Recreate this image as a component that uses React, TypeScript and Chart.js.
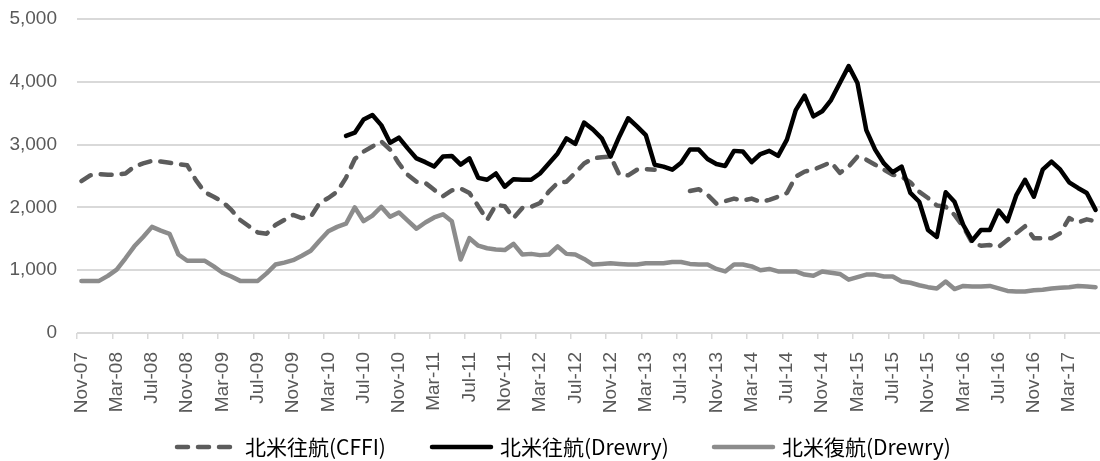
import React, { useEffect, useRef } from "react";
import { Chart, registerables } from "chart.js";

Chart.register(...registerables);

const months: string[] = [
  "Nov-07", "Dec-07",
  "Jan-08", "Feb-08", "Mar-08", "Apr-08", "May-08", "Jun-08", "Jul-08", "Aug-08", "Sep-08", "Oct-08", "Nov-08", "Dec-08",
  "Jan-09", "Feb-09", "Mar-09", "Apr-09", "May-09", "Jun-09", "Jul-09", "Aug-09", "Sep-09", "Oct-09", "Nov-09", "Dec-09",
  "Jan-10", "Feb-10", "Mar-10", "Apr-10", "May-10", "Jun-10", "Jul-10", "Aug-10", "Sep-10", "Oct-10", "Nov-10", "Dec-10",
  "Jan-11", "Feb-11", "Mar-11", "Apr-11", "May-11", "Jun-11", "Jul-11", "Aug-11", "Sep-11", "Oct-11", "Nov-11", "Dec-11",
  "Jan-12", "Feb-12", "Mar-12", "Apr-12", "May-12", "Jun-12", "Jul-12", "Aug-12", "Sep-12", "Oct-12", "Nov-12", "Dec-12",
  "Jan-13", "Feb-13", "Mar-13", "Apr-13", "May-13", "Jun-13", "Jul-13", "Aug-13", "Sep-13", "Oct-13", "Nov-13", "Dec-13",
  "Jan-14", "Feb-14", "Mar-14", "Apr-14", "May-14", "Jun-14", "Jul-14", "Aug-14", "Sep-14", "Oct-14", "Nov-14", "Dec-14",
  "Jan-15", "Feb-15", "Mar-15", "Apr-15", "May-15", "Jun-15", "Jul-15", "Aug-15", "Sep-15", "Oct-15", "Nov-15", "Dec-15",
  "Jan-16", "Feb-16", "Mar-16", "Apr-16", "May-16", "Jun-16", "Jul-16", "Aug-16", "Sep-16", "Oct-16", "Nov-16", "Dec-16",
  "Jan-17", "Feb-17", "Mar-17", "Apr-17", "May-17", "Jun-17",
];

const seriesNames: string[] = ["北米往航(CFFI)", "北米往航(Drewry)", "北米復航(Drewry)"];

// 北米往航(CFFI)
const cffiOutbound: (number | null)[] = [
  2420, 2510,
  2530, 2520, 2520, 2540, 2650, 2700, 2740, 2730, 2710, 2690, 2670, 2430,
  2240, 2170, 2090, 1960, 1800, 1700, 1600, 1580, 1720, 1800, 1880, 1830,
  1850, 2070, 2150, 2250, 2470, 2770, 2890, 2970, 3050, 2920, 2700, 2520,
  2410, 2390, 2280, 2180, 2270, 2300, 2230, 2020, 1800, 2040, 2020, 1830,
  1990, 2010, 2070, 2250, 2390, 2410, 2550, 2700, 2780, 2800, 2810, 2520,
  2510, 2600, 2610, 2600, null, null, null, 2260, 2290, 2200, 2060, 2100,
  2140, 2110, 2140, 2090, 2120, 2170, 2230, 2490, 2570, 2600, 2660, 2720,
  2550, 2650, 2810, 2760, 2680, 2600, 2520, 2490, 2400, 2250, 2150, 2030,
  2010, 1880, 1690, 1440, 1390, 1400, 1370, 1480, 1590, 1700, 1510, 1510,
  1510, 1590, 1830, 1760, 1810, 1780,
];

// 北米往航(Drewry)
const drewryOutbound: (number | null)[] = [
  null, null,
  null, null, null, null, null, null, null, null, null, null, null, null,
  null, null, null, null, null, null, null, null, null, null, null, null,
  null, null, null, null, 3140, 3190, 3400, 3470, 3310, 3030, 3110, 2940,
  2780, 2720, 2650, 2810, 2820, 2680, 2780, 2470, 2440, 2540, 2330, 2450,
  2440, 2440, 2540, 2700, 2860, 3100, 3010, 3350, 3240, 3100, 2810, 3130,
  3420, 3290, 3150, 2680, 2650, 2600, 2710, 2920, 2920, 2770, 2690, 2660,
  2900, 2890, 2720, 2850, 2900, 2820, 3080, 3550, 3780, 3450, 3530, 3710,
  3980, 4250, 3980, 3230, 2920, 2700, 2560, 2650, 2230, 2090, 1640, 1530,
  2240, 2090, 1720, 1470, 1640, 1640, 1950, 1780, 2190, 2440, 2170, 2600,
  2730, 2600, 2400, 2310, 2230, 1960,
];

// 北米復航(Drewry)
const drewryReturn: (number | null)[] = [
  830, 830,
  830, 910, 1010, 1190, 1380, 1530, 1690, 1630, 1580, 1250, 1150, 1150,
  1150, 1060, 960, 900, 830, 830, 830, 950, 1090, 1120, 1160, 1230,
  1310, 1470, 1620, 1690, 1740, 2000, 1780, 1870, 2010, 1850, 1920, 1790,
  1660, 1760, 1840, 1890, 1780, 1170, 1510, 1390, 1350, 1330, 1320, 1420,
  1250, 1260, 1240, 1250, 1380, 1260, 1250, 1180, 1090, 1100, 1110, 1100,
  1090, 1090, 1110, 1110, 1110, 1130, 1130, 1100, 1090, 1090, 1020, 980,
  1090, 1090, 1060, 1000, 1020, 980, 980, 980, 930, 910, 980, 960,
  940, 850, 890, 930, 930, 900, 900, 820, 800, 760, 730, 710,
  820, 700, 750, 740, 740, 750, 710, 670, 660, 660, 680, 690,
  710, 720, 730, 750, 740, 730,
];

const yMin = 0;
const yMax = 5000;
const yStep = 1000;

const AXIS_FONT = { family: "'Liberation Sans', Arial, sans-serif", size: 19 };
const AXIS_COLOR = "#595959";
const GRID_COLOR = "#d9d9d9";

const bottomLegend = {
  id: "bottomLegend",
  afterDraw(chart: any) {
    const ctx: CanvasRenderingContext2D = chart.ctx;
    const starts = [175, 430, 712];
    const y = 447;
    ctx.save();
    ctx.font = "21px 'Noto Sans CJK JP', sans-serif";
    ctx.textBaseline = "middle";
    ctx.textAlign = "left";
    chart.data.datasets.forEach((ds: any, k: number) => {
      const x = starts[k];
      ctx.beginPath();
      ctx.setLineDash(ds.borderDash || []);
      ctx.lineCap = "round";
      ctx.lineWidth = ds.borderWidth;
      ctx.strokeStyle = ds.borderColor;
      ctx.moveTo(x + 2, y);
      ctx.lineTo(x + 61, y);
      ctx.stroke();
      ctx.setLineDash([]);
      ctx.fillStyle = "#000000";
      ctx.fillText(ds.label, x + 70, y);
    });
    ctx.restore();
  },
};

export default function App() {
  const canvasRef = useRef<HTMLCanvasElement>(null);

  useEffect(() => {
    if (!canvasRef.current) return;
    const common = {
      pointRadius: 0,
      pointHoverRadius: 0,
      tension: 0,
      fill: false,
      spanGaps: false,
      borderWidth: 4.5,
      borderCapStyle: "round" as const,
      borderJoinStyle: "round" as const,
    };
    const chart = new Chart(canvasRef.current, {
      type: "line",
      data: {
        labels: months,
        datasets: [
          { ...common, label: seriesNames[0], data: cffiOutbound, borderColor: "#5c5c5c", borderDash: [11, 10], order: 3 },
          { ...common, label: seriesNames[1], data: drewryOutbound, borderColor: "#000000", order: 2 },
          { ...common, label: seriesNames[2], data: drewryReturn, borderColor: "#8c8c8c", order: 1 },
        ],
      },
      options: {
        responsive: true,
        maintainAspectRatio: false,
        animation: false,
        events: [],
        layout: { padding: { top: 19, left: 0, right: 0, bottom: 48 } },
        plugins: {
          legend: { display: false },
          tooltip: { enabled: false },
        },
        scales: {
          x: {
            type: "category",
            offset: true,
            border: { display: false },
            grid: {
              offset: true,
              drawOnChartArea: false,
              drawTicks: true,
              tickLength: 6,
              lineWidth: 1.5,
              color: (c: any) => (c.index % 4 === 0 ? GRID_COLOR : "rgba(0,0,0,0)"),
            },
            ticks: {
              autoSkip: false,
              minRotation: 90,
              maxRotation: 90,
              padding: 13,
              color: AXIS_COLOR,
              font: AXIS_FONT,
              callback: (_v: any, i: number) => (i % 4 === 0 ? months[i] : ""),
            },
            afterFit: (s: any) => {
              s.height = 80;
              s.paddingLeft = 0;
              s.paddingRight = 0;
            },
          },
          y: {
            min: yMin,
            max: yMax,
            border: { display: false },
            grid: { color: GRID_COLOR, lineWidth: 2, drawTicks: false },
            ticks: {
              stepSize: yStep,
              padding: 20,
              color: AXIS_COLOR,
              font: AXIS_FONT,
              callback: (v: any) => Number(v).toLocaleString("en-US"),
            },
            afterFit: (s: any) => {
              s.width = 77;
              s.paddingTop = 0;
              s.paddingBottom = 0;
            },
          },
        },
      },
      plugins: [bottomLegend],
    });
    return () => chart.destroy();
  }, []);

  return (
    <div style={{ position: "fixed", left: 0, top: 0, width: 1100, height: 461, background: "#ffffff" }}>
      <canvas ref={canvasRef} />
    </div>
  );
}
